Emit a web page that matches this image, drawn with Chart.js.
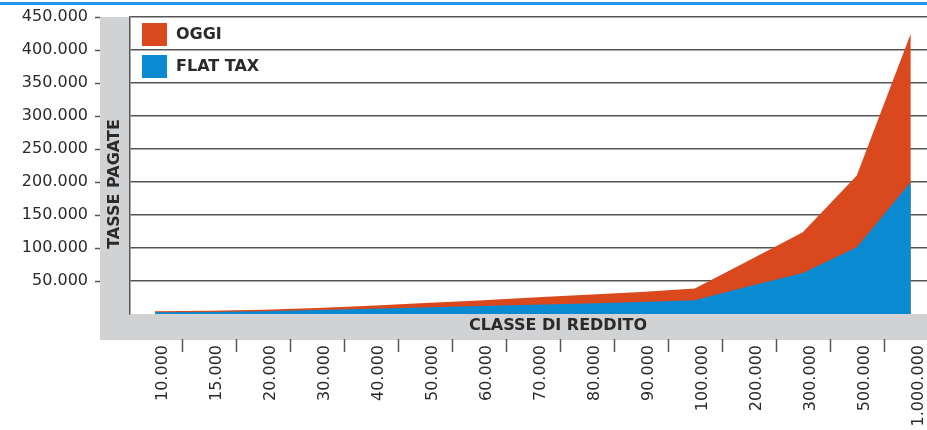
<!DOCTYPE html>
<html lang="it">
<head>
<meta charset="utf-8">
<title>Tasse pagate per classe di reddito</title>
<script src="https://cdn.jsdelivr.net/npm/chart.js@4.4.1/dist/chart.umd.min.js"></script>
<style>
  html, body { margin: 0; padding: 0; background: #fff; }
  #wrap { width: 927px; height: 430px; }
</style>
</head>
<body>
<div id="wrap"><canvas id="chart" width="927" height="430"></canvas></div>
<script>
// Classi di reddito (asse x) e tasse pagate (asse y)
const CATEGORIES = [
  '10.000', '15.000', '20.000', '30.000', '40.000', '50.000', '60.000',
  '70.000', '80.000', '90.000', '100.000', '200.000', '300.000', '500.000', '1.000.000',
];
const OGGI = [
  4000, 5000, 6500, 9000, 12500, 16500, 20500,
  25000, 29000, 33500, 38500, 81000, 124000, 210000, 425000,
];
const FLAT_TAX = [
  2500, 3000, 4000, 6000, 8000, 10000, 12000,
  14000, 16000, 18000, 21000, 42000, 62000, 101000, 200000,
];
const Y_TICKS = [0, 50000, 100000, 150000, 200000, 250000, 300000, 350000, 400000, 450000];

const ORANGE = '#d9491d';
const BLUE = '#0a8ad0';
const GRAY = '#d1d2d4';
const LINE = '#555555';
const TEXT = '#2a2a2a';
const FONT = '"DejaVu Sans", sans-serif';

const fmt = (v) => String(v).replace(/\B(?=(\d{3})+(?!\d))/g, '.');
const points = (arr) => arr.map((y, i) => ({ x: i, y }));

// Sfondi grigi, linea blu in alto, titoli degli assi, trattini e legenda
const decorPlugin = {
  id: 'decor',
  beforeDraw(chart) {
    const { ctx, chartArea: a, width, height } = chart;
    ctx.save();
    ctx.fillStyle = '#fff';
    ctx.fillRect(0, 0, width, height);
    ctx.fillStyle = '#2196f3';
    ctx.fillRect(0, 2, width, 3);
    ctx.fillStyle = GRAY;
    ctx.fillRect(a.left - 30, a.top, 30, a.bottom - a.top + 26);
    ctx.fillRect(a.left - 30, a.bottom, width - a.left + 30, 26);
    ctx.restore();
  },
  afterDatasetsDraw(chart) {
    const { ctx, chartArea: a, scales } = chart;
    ctx.save();
    ctx.strokeStyle = LINE;
    ctx.lineWidth = 1.5;

    // trattini asse y
    scales.y.ticks.forEach((t) => {
      if (t.value === 0) return;
      const y = Math.round(scales.y.getPixelForValue(t.value)) + 0.5;
      ctx.beginPath();
      ctx.moveTo(a.left - 35, y);
      ctx.lineTo(a.left - 30, y);
      ctx.stroke();
    });

    // trattini asse x, a metà fra le classi
    for (let i = 0; i < CATEGORIES.length - 1; i++) {
      const x = Math.round(scales.x.getPixelForValue(i + 0.5)) + 0.5;
      ctx.beginPath();
      ctx.moveTo(x, a.bottom + 25);
      ctx.lineTo(x, a.bottom + 38);
      ctx.stroke();
    }

    // titoli assi
    ctx.fillStyle = TEXT;
    ctx.font = `bold 16px ${FONT}`;
    ctx.textAlign = 'center';
    ctx.textBaseline = 'middle';
    ctx.fillText('CLASSE DI REDDITO', 558, a.bottom + 12);
    ctx.save();
    ctx.translate(a.left - 15, 184);
    ctx.rotate(-Math.PI / 2);
    ctx.fillText('TASSE PAGATE', 0, 0);
    ctx.restore();

    // legenda
    const items = [chart.data.datasets[0], chart.data.datasets[1]];
    ctx.font = `bold 16px ${FONT}`;
    ctx.textAlign = 'left';
    items.forEach((ds, i) => {
      const top = a.top + 6 + i * 32;
      ctx.fillStyle = ds.backgroundColor;
      ctx.fillRect(a.left + 12, top, 25, 23);
      ctx.fillStyle = TEXT;
      ctx.fillText(ds.label, a.left + 46, top + 12);
    });
    ctx.restore();
  },
};

new Chart(document.getElementById('chart'), {
  type: 'line',
  data: {
    datasets: [
      {
        label: 'OGGI',
        data: points(OGGI),
        backgroundColor: ORANGE,
        borderWidth: 0,
        fill: 'origin',
        pointRadius: 0,
        order: 2,
      },
      {
        label: 'FLAT TAX',
        data: points(FLAT_TAX),
        backgroundColor: BLUE,
        borderWidth: 0,
        fill: 'origin',
        pointRadius: 0,
        order: 1,
      },
    ],
  },
  options: {
    responsive: false,
    animation: false,
    layout: { padding: { top: 17, right: 0, left: 0, bottom: 0 } },
    plugins: {
      legend: { display: false },
      tooltip: { enabled: false },
    },
    scales: {
      x: {
        type: 'linear',
        min: -0.46,
        max: 14.3,
        afterBuildTicks: (scale) => {
          scale.ticks = CATEGORIES.map((_, i) => ({ value: i }));
        },
        afterFit: (scale) => {
          scale.height = 116;
          scale.paddingLeft = 0;
          scale.paddingRight = 0;
          scale.paddingTop = 0;
          scale.paddingBottom = 0;
        },
        grid: { display: false, drawTicks: false },
        border: { display: false },
        ticks: {
          autoSkip: false,
          maxRotation: 90,
          minRotation: 90,
          padding: 31,
          labelOffset: 8,
          color: TEXT,
          font: { family: FONT, size: 16 },
          callback: (v) => CATEGORIES[v] ?? '',
        },
      },
      y: {
        min: 0,
        max: 450000,
        afterBuildTicks: (scale) => {
          scale.ticks = Y_TICKS.map((value) => ({ value }));
        },
        afterFit: (scale) => {
          scale.width = 130;
          scale.paddingTop = 0;
          scale.paddingBottom = 0;
        },
        grid: {
          drawTicks: false,
          lineWidth: 1.5,
          color: (c) => (c.tick && c.tick.value === 0 ? 'rgba(0,0,0,0)' : LINE),
        },
        border: { display: true, color: LINE, width: 1.5 },
        ticks: {
          padding: 42,
          color: TEXT,
          font: { family: FONT, size: 16 },
          callback: (v) => (v === 0 ? '' : fmt(v)),
        },
      },
    },
  },
  plugins: [decorPlugin],
});
</script>
</body>
</html>
